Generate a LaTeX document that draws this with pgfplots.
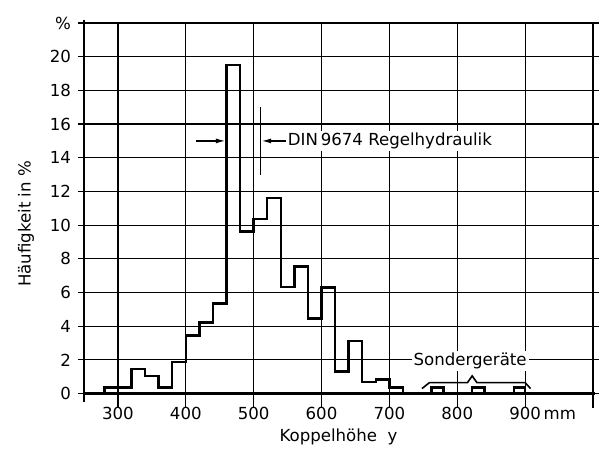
\documentclass[border=0pt]{standalone}
\usepackage{pgfplots}
\pgfplotsset{compat=1.18}
\usepackage{fontspec}
\setmainfont{DejaVu Sans}
\usetikzlibrary{arrows.meta}
\newcommand{\ff}{\fontsize{8.3}{10}\selectfont}
\begin{document}
\begin{tikzpicture}
\begin{axis}[
  scale only axis, width=254.5pt, height=189.5pt,
  xmin=250, xmax=1000, ymin=-0.5, ymax=22,
  axis line style={draw=none},
  xtick={300,400,500,600,700,800,900},
  xticklabels={300,400,500,600,700,800,900\rlap{\,mm}},
  extra x ticks={1000}, extra x tick labels={},
  ytick={0,2,4,6,8,10,12,14,16,18,20,22},
  yticklabels={0,2,4,6,8,10,12,14,16,18,20,\%},
  /pgf/number format/assume math mode=true,
  grid=major, grid style={black, line width=0.6pt},
  tick style={black, line width=0.6pt}, tick align=outside, major tick length=3pt,
  ticklabel style={font=\ff},
  xticklabel style={yshift=4pt},
  xtick pos=bottom, ytick pos=both,
  clip=false,
]
% axes
\addplot[black, line width=1.2pt] coordinates {(250,0) (1003,0)};
\addplot[black, line width=1.2pt] coordinates {(250,-0.5) (250,22.2)};
% histogram
\addplot[const plot, black, line width=1.2pt] coordinates {
(280,0) (280,0.35) (300,0.35) (320,1.45) (340,1.05) (360,0.37) (380,1.86)
(400,3.45) (420,4.22) (440,5.35) (460,19.5) (480,9.62) (500,10.35) (520,11.6)
(540,6.32) (560,7.55) (580,4.45) (600,6.3) (620,1.3) (640,3.12) (660,0.68)
(680,0.84) (700,0.37) (720,0)};
\addplot[const plot, black, line width=1.2pt] coordinates {(762,0) (762,0.35) (780,0)};
\addplot[const plot, black, line width=1.2pt] coordinates {(822,0) (822,0.35) (840,0)};
\addplot[const plot, black, line width=1.2pt] coordinates {(884,0) (884,0.35) (900,0)};
% brace
\addplot[black, line width=0.8pt] coordinates {(748,0.3) (759,0.65) (815,0.65) (822,1.05) (829,0.65) (900,0.65) (908,0.3)};
\node[fill=white, inner sep=1pt, font=\ff] at (axis cs:819,1.95) {Sondergeräte};
% DIN annotation
\draw[black, line width=0.8pt, -{Latex[length=5pt,width=2.5pt]}] (axis cs:415,15) -- (axis cs:459,15);
\draw[black, line width=0.8pt] (axis cs:510,13) -- (axis cs:510,17);
\draw[black, line width=0.8pt, -{Latex[length=5pt,width=2.5pt]}] (axis cs:548,15) -- (axis cs:511,15);
\node[anchor=west, fill=white, inner sep=1pt, font=\ff] at (axis cs:547,15) {DIN\,9674 Regelhydraulik};
% labels
\node[font=\ff] at ([yshift=-17.5pt]rel axis cs:0.5,0) {Koppelhöhe\ \ y};
\node[font=\ff, rotate=90] at ([xshift=-29pt]rel axis cs:0,0.47) {Häufigkeit in \%};
\end{axis}
\path (current axis.south west) ++(-42pt,-24pt) rectangle ++(303pt,225pt);
\end{tikzpicture}
\end{document}
